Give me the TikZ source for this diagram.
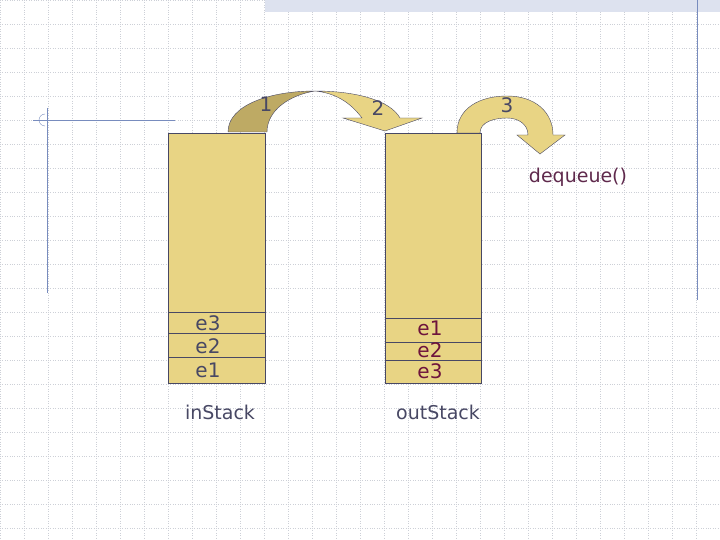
\documentclass[tikz,border=0pt]{standalone}
\usepackage{fontspec}
\setmainfont{DejaVu Sans}
\usepackage{xcolor}
\definecolor{stackfill}{RGB}{232,212,132}
\definecolor{stackline}{RGB}{72,72,100}
\definecolor{darkarc}{RGB}{190,170,100}
\definecolor{gridgray}{RGB}{205,208,215}
\definecolor{slideblue}{RGB}{120,140,190}
\definecolor{popcolor}{RGB}{110,20,60}

\begin{document}
\begin{tikzpicture}[x=1pt,y=-1pt,
    stackbox/.style={fill=stackfill, draw=stackline, thick},
    elem/.style={font=\fontsize{20}{20}\selectfont, text=stackline},
    popelem/.style={font=\fontsize{20}{20}\selectfont, text=popcolor},
    stacklabel/.style={font=\fontsize{19}{19}\selectfont, text=stackline},
    steplabel/.style={font=\fontsize{20}{20}\selectfont, text=stackline}]
    \useasboundingbox (0,0) rectangle (720,540);
    % background
    \foreach \gx in {0,24,...,720} \draw[gridgray, dotted] (\gx,0) -- (\gx,540);
    \foreach \gy in {0,24,...,540} \draw[gridgray, dotted] (0,\gy) -- (720,\gy);
    \fill[slideblue!25] (265,0) rectangle (720,12);
    \draw[slideblue] (697,0) -- (697,300);
    \draw[slideblue] (33,120) -- (175,120);
    \draw[slideblue] (47,108) -- (47,293);
    \draw[slideblue] (45,114) arc (270:90:6);

    % inStack
    \draw[stackbox] (168,133) rectangle (265,383);
    \draw[stackline] (168,312) -- (266,312);
    \draw[stackline] (168,333) -- (266,333);
    \draw[stackline] (168,357) -- (266,357);
    \node[elem] (ine3) at (208,323) {e3};
    \node[elem] (ine2) at (208,346) {e2};
    \node[elem] (ine1) at (208,370) {e1};
    \node[stacklabel] (instack) at (220,412) {inStack};

    % outStack
    \draw[stackbox] (385,133) rectangle (481,383);
    \draw[stackline] (385,318) -- (481,318);
    \draw[stackline] (385,342) -- (481,342);
    \draw[stackline] (385,360) -- (481,360);
    \node[popelem] (oute1) at (430,328) {e1};
    \node[popelem] (oute2) at (430,350) {e2};
    \node[popelem] (oute3) at (430,371) {e3};
    \node[stacklabel] (outstack) at (438,412) {outStack};

    % transfer arrow (1, 2)
    \draw[fill=darkarc, draw=stackline] (228,132) .. controls (228,105) and (270,91) .. (315,91)
        .. controls (290,95) and (267,110) .. (267,132) -- cycle;
    \draw[fill=stackfill, draw=stackline] (315,91) .. controls (355,91) and (390,100) .. (400,118)
        -- (422,118) -- (385,131) -- (343,118) -- (362,118)
        .. controls (350,102) and (335,93) .. (315,91) -- cycle;
    \node[steplabel] (one) at (266,104) {1};
    \node[steplabel] (two) at (378,108) {2};

    % pop arrow (3)
    \draw[fill=stackfill, draw=stackline] (457,133) .. controls (457,108) and (480,96) .. (507,96)
        .. controls (535,96) and (553,112) .. (553,135) -- (565,135) -- (540,154) -- (517,135)
        -- (528,135) .. controls (528,124) and (518,118) .. (507,118)
        .. controls (494,118) and (480,122) .. (480,133) -- cycle;
    \node[steplabel] (three) at (507,105) {3};
    \node[stacklabel, text=popcolor!60!stackline] (dequeue) at (578,177) {dequeue()};
\end{tikzpicture}
\end{document}
